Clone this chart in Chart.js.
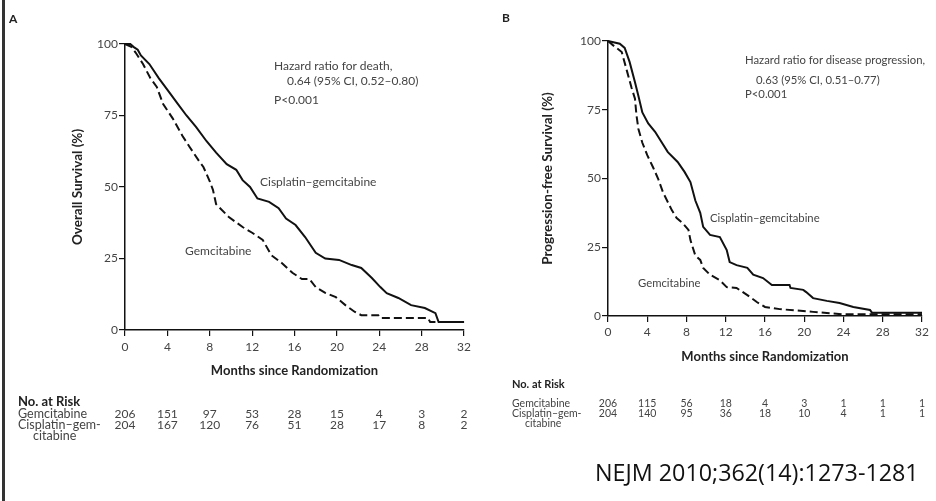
<!DOCTYPE html>
<html>
<head>
<meta charset="utf-8">
<script src="https://cdn.jsdelivr.net/npm/chart.js"></script>
<style>
  body { margin: 0; background: #fff; }
  #page { position: relative; width: 936px; height: 501px; overflow: hidden; font-family: Lato, 'Liberation Sans', sans-serif; color: #444; }
  .panel { position: absolute; top: 0; height: 501px; }
  #panelA { left: 0; width: 475px; }
  #panelB { left: 470px; width: 466px; }
  .t { position: absolute; white-space: nowrap; line-height: 13px; font-size: 12px; }
  .b { font-weight: bold; color: #222; }
  .risk { position: absolute; white-space: nowrap; line-height: 12px; transform: translateX(-50%); color: #444; }
  #border { position: absolute; left: 2px; top: 0; width: 3px; height: 501px; background: #333; }
  #cite { position: absolute; left: 595px; top: 456px; font-family: 'Open Sans', 'Noto Sans', sans-serif; font-size: 23.3px; line-height: 32px; color: #111; }
</style>
</head>
<body>
<div id="page">
  <div class="panel" id="panelA"><canvas id="chartA" width="475" height="501"></canvas></div>
  <div class="panel" id="panelB"><canvas id="chartB" width="466" height="501"></canvas></div>
  <div id="border"></div>

  <div class="t b" style="left:9px;top:12px;">A</div>
  <div class="t" style="left:274px;top:59px;">Hazard ratio for death,</div>
  <div class="t" style="left:287px;top:74px;">0.64 (95% CI, 0.52–0.80)</div>
  <div class="t" style="left:274px;top:93px;">P&lt;0.001</div>
  <div class="t" style="left:260px;top:175px;">Cisplatin–gemcitabine</div>
  <div class="t" style="left:185px;top:244px;">Gemcitabine</div>
  <div class="t b" style="left:18px;top:395px;font-size:13px;">No. at Risk</div>
  <div class="t" style="left:18px;top:407px;font-size:12.5px;">Gemcitabine</div>
  <div class="t" style="left:18px;top:418px;font-size:12.5px;">Cisplatin–gem-</div>
  <div class="t" style="left:33px;top:429px;font-size:12.5px;">citabine</div>

  <div class="t b" style="left:502px;top:11px;">B</div>
  <div class="t" style="left:745px;top:53px;font-size:11.3px;">Hazard ratio for disease progression,</div>
  <div class="t" style="left:756px;top:73px;font-size:11.3px;">0.63 (95% CI, 0.51–0.77)</div>
  <div class="t" style="left:745px;top:87px;font-size:11.3px;">P&lt;0.001</div>
  <div class="t" style="left:710px;top:211px;font-size:11.3px;">Cisplatin–gemcitabine</div>
  <div class="t" style="left:638px;top:276px;font-size:11.3px;">Gemcitabine</div>
  <div class="t b" style="left:512px;top:377px;font-size:11px;">No. at Risk</div>
  <div class="t" style="left:512px;top:397px;font-size:10.5px;">Gemcitabine</div>
  <div class="t" style="left:512px;top:407px;font-size:10.5px;">Cisplatin–gem-</div>
  <div class="t" style="left:525px;top:417px;font-size:10.5px;">citabine</div>

  <div id="cite">NEJM 2010;362(14):1273-1281</div>
</div>

<script>
// tick values
const months = [0, 4, 8, 12, 16, 20, 24, 28, 32];
const pctTicks = [0, 25, 50, 75, 100];

// Panel A - overall survival (%), [month, percent]
const osGem = [[0,100],[0.6,99],[1,97],[1.7,93],[2.4,88],[3,85],[3.6,79],[4.5,74],[5.4,68],[6.1,64],[7,59],[7.4,57],
  [8,52],[8.3,49],[8.6,44],[9.8,39.5],[11.1,36],[12,34],[13,31.5],[13.8,26.2],[14.8,23.4],[15.8,20],[16.7,17.8],
  [17.4,17.8],[18,15],[18.9,13],[19.9,11.5],[20.8,8.7],[21.7,6.3],[22.3,5.2],[23.9,5.2],[24.1,4.2],[28.6,4.2],
  [28.8,2.8],[32,2.8]];
const osCisGem = [[0,100],[0.5,100],[0.8,99],[1.2,98],[1.5,96],[2.3,93],[3.2,88],[4.2,83],[5,79],[5.8,75],[6.7,71],
  [7.7,66],[8.6,62],[9.6,58],[10.5,56],[11.1,52.4],[11.8,50],[12.5,46],[13.6,44.8],[14.5,42.6],[15.2,39],[16.1,36.7],
  [17,32.5],[18,27],[18.9,25],[20.2,24.5],[21.4,22.7],[22.3,21.7],[23.3,18.2],[24.1,15],[24.7,12.9],[25.8,11.2],
  [27,8.7],[28.3,7.7],[29.3,5.9],[29.6,2.8],[32,2.8]];
const osRiskGem = [206, 151, 97, 53, 28, 15, 4, 3, 2];
const osRiskCisGem = [204, 167, 120, 76, 51, 28, 17, 8, 2];

// Panel B - progression-free survival (%)
const pfsGem = [[0,100],[0.5,98.5],[1.4,96],[1.9,89.5],[2.4,83],[2.75,79],[2.9,73],[3.1,68],[3.5,63],[4,58.5],[4.6,54],
  [5.1,50],[5.6,45],[6.5,38.5],[7,35.6],[7.6,33.8],[8.2,31.3],[8.4,27.6],[8.9,22],[9.4,20.4],[9.7,17.5],[10.4,15],
  [11.4,13],[12.1,10.5],[13.1,10.2],[14.2,7.6],[15.2,5],[16,3.3],[17.5,2.5],[20.9,1.5],[22.3,1.1],[24,0.6],[32,0.6]];
const pfsCisGem = [[0,100],[1.2,99],[1.7,97.5],[2.2,92.4],[2.75,85],[3.1,80],[3.5,74],[4.1,70],[4.8,67],[5.5,63],
  [6.1,59.6],[7.1,56],[7.8,52.4],[8.4,48.7],[8.9,42],[9.4,37.5],[9.7,32.4],[10.4,29.5],[11.4,28.7],[12.1,24],
  [12.4,19.6],[13.1,18.5],[14.2,17.5],[14.8,15],[15.8,13.8],[16.7,11.3],[18.5,11.3],[18.6,10.2],[19.9,9.5],
  [20.2,8.7],[20.9,6.5],[22.3,5.5],[23.6,4.7],[25,3.3],[26.7,2.2],[26.9,1.2],[32,1.2]];
const pfsRiskGem = [206, 115, 56, 18, 4, 3, 1, 1, 1];
const pfsRiskCisGem = [204, 140, 95, 36, 18, 10, 4, 1, 1];

const toXY = pts => pts.map(p => ({ x: p[0], y: p[1] }));

Chart.defaults.font.family = "Lato, 'Liberation Sans', sans-serif";

// put the at-risk numbers under the month ticks, using the chart's x scale
function riskPlugin(panelId, rows, fontSize) {
  return {
    id: 'risk',
    afterRender(chart) {
      if (chart._riskDone) return;
      chart._riskDone = true;
      const panel = document.getElementById(panelId);
      rows.forEach(row => {
        row.values.forEach((v, i) => {
          const el = document.createElement('div');
          el.className = 'risk';
          el.textContent = v;
          el.style.left = chart.scales.x.getPixelForValue(months[i]) + 'px';
          el.style.top = row.top + 'px';
          el.style.fontSize = fontSize + 'px';
          panel.appendChild(el);
        });
      });
    }
  };
}

function makeChart(cfg) {
  return new Chart(document.getElementById(cfg.canvas), {
    type: 'line',
    data: {
      datasets: [
        { data: toXY(cfg.gem), borderColor: '#111', borderWidth: 2, borderDash: [8, 4], pointRadius: 0, tension: 0, clip: 4 },
        { data: toXY(cfg.cis), borderColor: '#111', borderWidth: 2, pointRadius: 0, tension: 0, clip: 4 }
      ]
    },
    options: {
      responsive: false,
      animation: false,
      layout: { padding: cfg.padding },
      plugins: { legend: { display: false }, tooltip: { enabled: false } },
      scales: {
        x: {
          type: 'linear', min: 0, max: 32,
          afterBuildTicks: s => { s.ticks = months.map(v => ({ value: v })); },
          afterFit: s => { s.height = cfg.xHeight; },
          ticks: { color: '#444', font: { size: 12 }, padding: cfg.xTickPad, maxRotation: 0 },
          grid: { drawOnChartArea: false, color: '#111', tickLength: 6, lineWidth: 1.2 },
          border: { color: '#111', width: 1.5 },
          title: { display: true, text: 'Months since Randomization', color: '#222',
                   font: { size: 13, weight: 'bold' }, padding: { top: 0, bottom: cfg.xTitlePad } }
        },
        y: {
          min: 0, max: 100,
          afterBuildTicks: s => { s.ticks = pctTicks.map(v => ({ value: v })); },
          afterFit: s => { s.width = cfg.yWidth; },
          ticks: { color: '#444', font: { size: 12 }, padding: 1 },
          grid: { drawOnChartArea: false, color: '#111', tickLength: 6, lineWidth: 1.2 },
          border: { color: '#111', width: 1.5 },
          title: { display: true, text: cfg.yTitle, color: '#222',
                   font: { size: 13.5, weight: 'bold' }, padding: { top: cfg.yTitlePad, bottom: 0 } }
        }
      }
    },
    plugins: [riskPlugin(cfg.panel, cfg.risk, cfg.riskFont)]
  });
}

makeChart({
  canvas: 'chartA', panel: 'panelA', gem: osGem, cis: osCisGem,
  padding: { left: 0, top: 44, right: 9, bottom: 101 },
  xHeight: 70, yWidth: 125, xTickPad: 4, xTitlePad: 21, yTitlePad: 70,
  yTitle: 'Overall Survival (%)',
  risk: [{ values: osRiskGem, top: 408 }, { values: osRiskCisGem, top: 419 }], riskFont: 12
});

makeChart({
  canvas: 'chartB', panel: 'panelB', gem: pfsGem, cis: pfsCisGem,
  padding: { left: 0, top: 41, right: 14, bottom: 121 },
  xHeight: 64, yWidth: 138, xTickPad: 3, xTitlePad: 15, yTitlePad: 70,
  yTitle: 'Progression-free Survival (%)',
  risk: [{ values: pfsRiskGem, top: 397 }, { values: pfsRiskCisGem, top: 407 }], riskFont: 10.5
});
</script>
</body>
</html>
